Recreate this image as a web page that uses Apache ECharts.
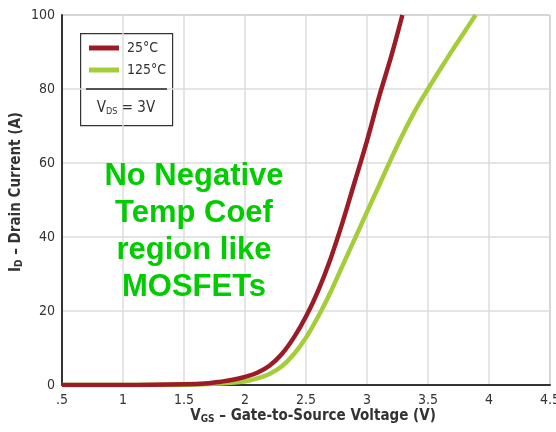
<!DOCTYPE html>
<html><head><meta charset="utf-8">
<script src="https://cdn.jsdelivr.net/npm/echarts@6/dist/echarts.min.js"></script>
<style>html,body{margin:0;padding:0;background:#fff}#c{width:556px;height:432px}</style>
</head><body><div id="c"></div>
<script>
var vgs25 = [0.5, 1.0, 1.5, 1.7, 1.8, 1.9, 2.0, 2.1, 2.2, 2.3, 2.4, 2.5, 2.6, 2.7, 2.8, 2.9, 3.0, 3.1, 3.2, 3.29];
var id25  = [0, 0, 0.2, 0.5, 0.9, 1.4, 2.2, 3.3, 5.2, 8.3, 12.8, 18.5, 25.5, 34, 44, 55, 66, 78, 89, 100];
var vgs125 = [0.5, 1.0, 1.5, 1.8, 2.0, 2.1, 2.2, 2.3, 2.4, 2.5, 2.6, 2.7, 2.8, 2.9, 3.0, 3.1, 3.2, 3.3, 3.4, 3.5, 3.6, 3.7, 3.8, 3.89];
var id125  = [0, 0, 0.1, 0.4, 1.0, 1.8, 3.0, 5.0, 8.3, 12.8, 18.5, 25, 32.3, 39.5, 46.8, 54, 61.3, 68.2, 74.5, 80, 85.3, 90.5, 95.5, 100];
var xTicks = ['.5', '1', '1.5', '2', '2.5', '3', '3.5', '4', '4.5'];
var yTicks = ['0', '20', '40', '60', '80', '100'];
var seriesNames = ['25°C', '125°C'];
var note = ['No Negative', 'Temp Coef', 'region like', 'MOSFETs'];

function pairs(xs, ys) { return xs.map(function (x, i) { return [x, ys[i]]; }); }
var FONT = "'DejaVu Sans Condensed', 'DejaVu Sans', sans-serif";
var richTitle = {
  b: { fontSize: 15, fontWeight: 'bold', fontFamily: FONT, fill: '#333' },
  s: { fontSize: 10, fontWeight: 'bold', fontFamily: FONT, fill: '#333', verticalAlign: 'bottom', padding: [7, 0, 0, 0] }
};
var chart = echarts.init(document.getElementById('c'));
chart.setOption({
  animation: false,
  backgroundColor: '#fff',
  grid: { left: 62, right: 6, top: 15, bottom: 47, show: true, borderColor: '#888', borderWidth: 1,
          containLabel: false, outerBoundsMode: 'none' },
  xAxis: {
    type: 'value', min: 0.5, max: 4.5, interval: 0.5,
    axisLine: { show: true, lineStyle: { color: '#333', width: 2 } },
    axisTick: { show: false },
    splitLine: { show: true, lineStyle: { color: '#dcdcdc', width: 1.5 } },
    axisLabel: { color: '#333', fontSize: 14, fontFamily: FONT, margin: 8,
      formatter: function (v) { var i = Math.round((v - 0.5) / 0.5); return xTicks[i] || ''; } }
  },
  yAxis: {
    type: 'value', min: 0, max: 100, interval: 20,
    axisLine: { show: true, lineStyle: { color: '#333', width: 2 } },
    axisTick: { show: false },
    splitLine: { show: true, lineStyle: { color: '#dcdcdc', width: 1.5 } },
    axisLabel: { color: '#333', fontSize: 14, fontFamily: FONT, margin: 7,
      formatter: function (v) { return yTicks[Math.round(v / 20)]; } }
  },
  legend: {
    orient: 'vertical', left: 89, top: 41, padding: 0, itemWidth: 30, itemHeight: 5, itemGap: 8,
    icon: 'rect', data: [seriesNames[0], seriesNames[1]],
    textStyle: { fontSize: 14, fontFamily: FONT, color: '#333', padding: [0, 0, 0, 3] }
  },
  series: [
    { name: seriesNames[1], type: 'line', data: pairs(vgs125, id125), smooth: 0.35, showSymbol: false,
      lineStyle: { color: '#a5cd39', width: 4.5 }, itemStyle: { color: '#a5cd39' }, z: 2 },
    { name: seriesNames[0], type: 'line', data: pairs(vgs25, id25), smooth: 0.35, showSymbol: false,
      lineStyle: { color: '#9b1c27', width: 4.5 }, itemStyle: { color: '#9b1c27' }, z: 3 }
  ],
  graphic: [
    { type: 'rect', left: 80, top: 33, shape: { width: 92, height: 92 }, z: 0,
      style: { fill: '#fff', stroke: '#333', lineWidth: 1.2 } },
    { type: 'line', shape: { x1: 86, y1: 89, x2: 167, y2: 89 }, style: { stroke: '#222', lineWidth: 1.5 }, z: 10 },
    { type: 'text', x: 126, y: 108, z: 10,
      style: { text: '{v|V}{s|DS}{v| = 3V}', align: 'center', verticalAlign: 'middle', rich: {
        v: { fontSize: 15, fontFamily: FONT, fill: '#333' },
        s: { fontSize: 9, fontFamily: FONT, fill: '#333', verticalAlign: 'bottom', padding: [7, 0, 0, 0] } } } },
    { type: 'text', x: 194, y: 158, z: 10,
      style: { text: note.join('\n'), fill: '#00cc00', font: 'bold 31px "Liberation Sans", Arial, sans-serif',
        align: 'center', lineHeight: 37 } },
    { type: 'text', x: 313, y: 416, z: 10,
      style: { text: '{b|V}{s|GS}{b| – Gate-to-Source Voltage (V)}', align: 'center', verticalAlign: 'middle', rich: richTitle } },
    { type: 'text', x: 16, y: 192, rotation: Math.PI / 2, z: 10,
      style: { text: '{b|I}{s|D}{b| – Drain Current (A)}', align: 'center', verticalAlign: 'middle', rich: richTitle } }
  ]
});
</script></body></html>
